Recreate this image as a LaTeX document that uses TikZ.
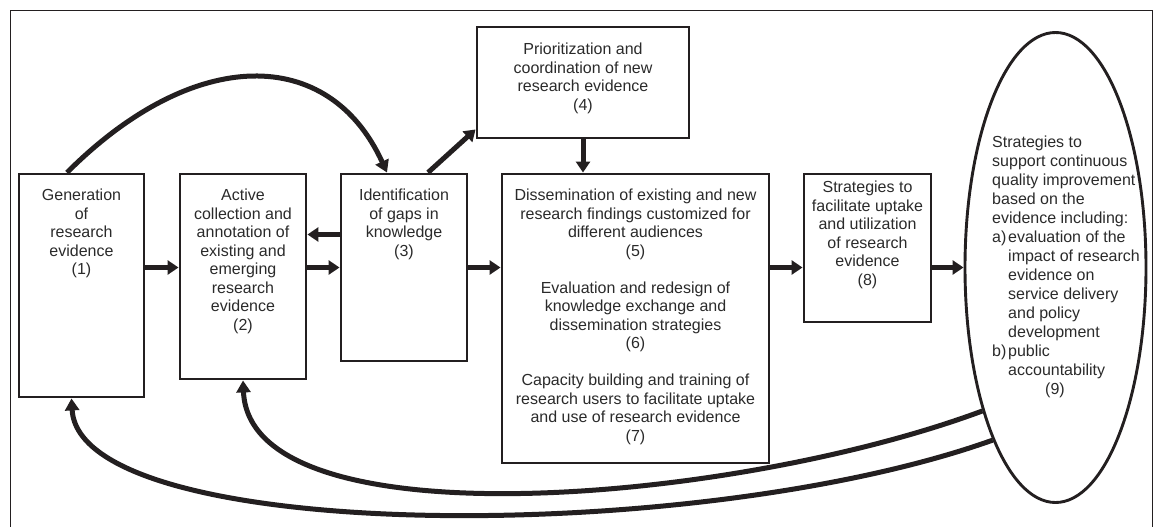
\documentclass[tikz,border=0pt]{standalone}
\usepackage{fontspec}
\setmainfont{Liberation Sans}
\usetikzlibrary{arrows.meta,shapes.geometric}
\definecolor{ink}{HTML}{231F20}
\definecolor{txt}{HTML}{2A2A2A}
\newcommand{\boxtext}[4]{\parbox[c][#2][t]{#1}{\centering\fontsize{16}{18.5}\selectfont\vspace*{#3}#4}}
\begin{document}
\begin{tikzpicture}[x=1pt,y=-1pt,
  box/.style={draw=ink, line width=2.9pt, inner sep=0pt, text=txt},
  arr/.style={draw=ink, line width=5pt, -{Triangle[length=11pt,width=14pt]}},
  curv/.style={draw=ink, line width=5pt, -{Triangle[length=12pt,width=14pt]}}]
\useasboundingbox (0,0) rectangle (1159,527);
\draw[ink, line width=1.4pt] (10.5,527) -- (10.5,10.5) -- (1152.5,10.5) -- (1152.5,527);

\node[box] (b1) at (81.5,285.5) {\boxtext{125pt}{223pt}{15pt}{Generation\\of\\research\\evidence\\(1)}};
\node[box] (b2) at (243,276.5) {\boxtext{126pt}{205pt}{15pt}{Active\\collection and\\annotation of\\existing and\\emerging\\research\\evidence\\(2)}};
\node[box] (b3) at (404,267.5) {\boxtext{126pt}{187pt}{15pt}{Identification\\of gaps in\\knowledge\\(3)}};
\node[box] (b4) at (583,82.5) {\boxtext{212pt}{111pt}{16pt}{Prioritization and\\coordination of new\\research evidence\\(4)}};
\node[box] (b5) at (635.5,318.5) {\boxtext{267pt}{289pt}{15pt}{Dissemination of existing and new\\research findings customized for\\different audiences\\(5)\\[18.5pt]Evaluation and redesign of\\knowledge exchange and\\dissemination strategies\\(6)\\[18.5pt]Capacity building and training of\\research users to facilitate uptake\\and use of research evidence\\(7)}};
\node[box] (b8) at (867.5,248) {\boxtext{127pt}{148pt}{7pt}{Strategies to\\facilitate uptake\\and utilization\\of research\\evidence\\(8)}};
\node[draw=ink, line width=2.9pt, ellipse, minimum width=181pt, minimum height=470pt, inner sep=0pt] (e9) at (1055.5,267.5) {};
\node[anchor=north west, align=left, inner sep=0pt, text=txt, font=\fontsize{16}{19}\selectfont] (t9) at (992,136) {Strategies to\\support continuous\\quality improvement\\based on the\\evidence including:\\\makebox[16pt][l]{a)}evaluation of the\\\hspace*{16pt}impact of research\\\hspace*{16pt}evidence on\\\hspace*{16pt}service delivery\\\hspace*{16pt}and policy\\\hspace*{16pt}development\\\makebox[16pt][l]{b)}public\\\hspace*{16pt}accountability\\\hspace*{53pt}(9)};

\coordinate (r32) at ([yshift=33pt]b3.west);
\coordinate (r34) at ([xshift=24pt]b3.north);
\coordinate (r43) at ([yshift=10pt]b4.south west);

\draw[arr] (b1.east |- b3.center) -- (b2.west |- b3.center);
\draw[arr] (b2.east |- b3.center) -- (b3.west);
\draw[arr] (r32) -- (r32 -| b2.east);
\draw[arr] (r34) -- (r43);
\draw[arr] (b4.south) -- (b4.south |- b5.north);
\draw[arr] (b3.east) -- (b3.east -| b5.west);
\draw[arr] (b5.east |- b3.center) -- (b8.west |- b3.center);
\draw[arr] (b8.east |- e9.west) -- (e9.west);

\draw[curv] ([xshift=-14.5pt]b1.north) .. controls +(127,-127) and +(-58,-127) .. ([xshift=-17pt]b3.north);
\draw[curv] (e9.243) .. controls +(-250,93) and +(7,164) .. (b2.south);
\draw[curv] (e9.250) .. controls +(-300,107) and +(8,145) .. ([xshift=-10pt]b1.south);
\end{tikzpicture}
\end{document}
